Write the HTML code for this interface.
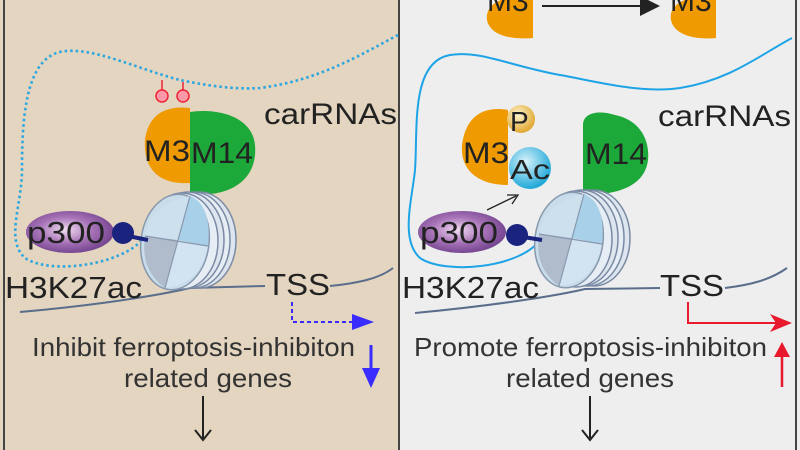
<!DOCTYPE html>
<html><head><meta charset="utf-8"><style>
html,body{margin:0;padding:0;width:800px;height:450px;overflow:hidden;background:#eee}
text{font-family:"Liberation Sans",sans-serif}
</style></head><body>
<svg width="800" height="450" viewBox="0 0 800 450" xmlns="http://www.w3.org/2000/svg">
<defs>
<radialGradient id="pg" cx="0.45" cy="0.45" r="0.6"><stop offset="0" stop-color="#f0dcf0"/><stop offset="0.5" stop-color="#a874b8"/><stop offset="1" stop-color="#6e3e8a"/></radialGradient>
<radialGradient id="ag" cx="0.4" cy="0.35" r="0.65"><stop offset="0" stop-color="#d8f2fb"/><stop offset="1" stop-color="#1fa8d8"/></radialGradient>
<radialGradient id="tg" cx="0.4" cy="0.35" r="0.65"><stop offset="0" stop-color="#fff4d0"/><stop offset="1" stop-color="#e0a830"/></radialGradient>
<g id="nuc">
<ellipse cx="200" cy="240" rx="36" ry="48" fill="#dde6ee" stroke="#7a8aa4" stroke-width="1.5"/>
<ellipse cx="194" cy="240" rx="36" ry="48" fill="#e6edf4" stroke="#7a8aa4" stroke-width="1.5"/>
<ellipse cx="188" cy="240" rx="36" ry="48" fill="#dde6ee" stroke="#7a8aa4" stroke-width="1.5"/>
<ellipse cx="182" cy="241" rx="36" ry="48" fill="#e6edf4" stroke="#7a8aa4" stroke-width="1.5"/>
<ellipse cx="175" cy="242" rx="34" ry="48" transform="rotate(8 175 242)" fill="#c8dcea" stroke="#8898ae" stroke-width="1.5"/>
<path d="M190 196 L178 240 L145 236 Q150 205 190 196Z" fill="#cde0ee"/>
<path d="M190 196 L178 240 L208 246 Q212 205 190 196Z" fill="#a8d0e8"/>
<path d="M145 236 L178 240 L165 288 Q140 270 145 236Z" fill="#b0bccc"/>
<path d="M178 240 L208 246 Q200 285 165 288Z" fill="#d2e4f2"/>
<path d="M190 196 L165 288 M145 236 L208 246" stroke="#8898ae" stroke-width="1.2" fill="none"/>
</g>
</defs>
<!-- left panel -->
<rect x="0" y="0" width="400" height="450" fill="#e3d5bf"/>
<line x1="4" y1="0" x2="4" y2="450" stroke="#444" stroke-width="2"/>
<line x1="399" y1="0" x2="399" y2="450" stroke="#444" stroke-width="2"/>
<line x1="796" y1="0" x2="796" y2="450" stroke="#444" stroke-width="2"/>
<path d="M398 35 C360 55 320 80 260 88 C230 90 200 84 180 80 C140 70 90 45 60 52 C25 60 22 120 22 170 C22 205 5 240 25 258 C50 275 120 265 142 240" fill="none" stroke="#2aa6e0" stroke-width="2.6" stroke-dasharray="2.5 3"/>
<line x1="162" y1="80" x2="162" y2="92" stroke="#e23" stroke-width="1.5"/>
<line x1="183" y1="82" x2="183" y2="92" stroke="#e23" stroke-width="1.5"/>
<circle cx="162" cy="96" r="6" fill="#f9a" stroke="#e23" stroke-width="1.5"/>
<circle cx="183" cy="96" r="6" fill="#f9a" stroke="#e23" stroke-width="1.5"/>
<path d="M190 108 C165 105 148 115 145 140 C143 170 160 185 190 183Z" fill="#ef9a00"/>
<path d="M190 112 C215 108 252 115 255 145 C258 180 230 198 190 194Z" fill="#1da83a"/>
<text x="144" y="161" font-size="30" fill="#222" textLength="46" lengthAdjust="spacingAndGlyphs">M3</text>
<text x="191" y="163" font-size="30" fill="#222" textLength="62" lengthAdjust="spacingAndGlyphs">M14</text>
<text x="264" y="124" font-size="30" fill="#222" textLength="133" lengthAdjust="spacingAndGlyphs">carRNAs</text>
<path d="M20 312 C100 305 160 295 190 288 L265 286" fill="none" stroke="#5a6e8c" stroke-width="2"/>
<path d="M330 286 C360 283 380 278 393 268" fill="none" stroke="#5a6e8c" stroke-width="2"/>
<use href="#nuc"/>
<ellipse cx="70" cy="232" rx="44" ry="21" fill="url(#pg)"/>
<text x="27" y="243" font-size="31" fill="#222" textLength="78" lengthAdjust="spacingAndGlyphs">p300</text>
<line x1="123" y1="235" x2="148" y2="240" stroke="#1a237e" stroke-width="4"/>
<circle cx="123" cy="233" r="11" fill="#1a237e"/>
<text x="5" y="298" font-size="31" fill="#222" textLength="137" lengthAdjust="spacingAndGlyphs">H3K27ac</text>
<text x="266" y="295" font-size="31" fill="#222" textLength="64" lengthAdjust="spacingAndGlyphs">TSS</text>
<path d="M292 302 L292 322 L360 322" fill="none" stroke="#3a2bff" stroke-width="2" stroke-dasharray="4 3"/>
<path d="M352 314 L374 322 L352 330Z" fill="#3a2bff"/>
<line x1="371" y1="345" x2="371" y2="372" stroke="#3a2bff" stroke-width="3"/>
<path d="M362 368 L371 388 L380 368Z" fill="#3a2bff"/>
<text x="32" y="356" font-size="26" fill="#333" textLength="323" lengthAdjust="spacingAndGlyphs">Inhibit ferroptosis-inhibiton</text>
<text x="124" y="387" font-size="26" fill="#333" textLength="168" lengthAdjust="spacingAndGlyphs">related genes</text>
<line x1="203" y1="396" x2="203" y2="438" stroke="#222" stroke-width="2"/>
<path d="M195 430 L203 440 L211 430" fill="none" stroke="#222" stroke-width="2"/>
<!-- right panel -->
<rect x="401" y="0" width="394" height="450" fill="#eeeeee"/>
<path d="M533 -5 C500 -5 485 5 487 20 C490 35 510 40 533 38Z" fill="#ef9a00"/>
<text x="487" y="11" font-size="30" fill="#222">M3</text>
<line x1="542" y1="6" x2="650" y2="6" stroke="#222" stroke-width="2"/>
<path d="M640 -4 L660 6 L640 16Z" fill="#222"/>
<path d="M716 -5 C685 -5 668 5 671 20 C674 35 695 40 716 38Z" fill="#ef9a00"/>
<text x="670" y="11" font-size="30" fill="#222">M3</text>
<path d="M792 38 C760 55 730 80 680 88 C640 94 590 80 560 75 C510 66 480 50 450 55 C410 62 418 130 415 170 C412 200 400 240 420 258 C445 275 520 268 540 240" fill="none" stroke="#1ea4e6" stroke-width="2"/>
<path d="M508 110 C480 105 465 120 462 145 C460 170 478 185 508 185Z" fill="#ef9a00"/>
<circle cx="521" cy="119" r="14" fill="url(#tg)"/>
<text x="510" y="131" font-size="28" fill="#222">P</text>
<circle cx="530" cy="168" r="21" fill="url(#ag)"/>
<text x="463" y="163" font-size="30" fill="#222" textLength="46" lengthAdjust="spacingAndGlyphs">M3</text>
<text x="510" y="179" font-size="28" fill="#222" textLength="40" lengthAdjust="spacingAndGlyphs">Ac</text>
<path d="M583 125 C583 112 600 110 615 115 C640 120 650 140 648 160 C645 185 620 195 583 195Z" fill="#1da83a"/>
<text x="585" y="164" font-size="30" fill="#222" textLength="62" lengthAdjust="spacingAndGlyphs">M14</text>
<text x="658" y="126" font-size="30" fill="#222" textLength="133" lengthAdjust="spacingAndGlyphs">carRNAs</text>
<line x1="487" y1="210" x2="516" y2="196" stroke="#222" stroke-width="1.3"/>
<path d="M507 195 L518 195 L512 204" fill="none" stroke="#222" stroke-width="1.3"/>
<path d="M415 313 C500 305 560 295 585 289 L660 288" fill="none" stroke="#5a6e8c" stroke-width="2"/>
<path d="M725 288 C750 285 770 280 787 268" fill="none" stroke="#5a6e8c" stroke-width="2"/>
<use href="#nuc" transform="translate(394 -2)"/>
<ellipse cx="462" cy="232" rx="44" ry="21" fill="url(#pg)"/>
<text x="420" y="243" font-size="31" fill="#222" textLength="78" lengthAdjust="spacingAndGlyphs">p300</text>
<line x1="517" y1="236" x2="542" y2="240" stroke="#1a237e" stroke-width="4"/>
<circle cx="517" cy="235" r="11" fill="#1a237e"/>
<text x="402" y="298" font-size="31" fill="#222" textLength="137" lengthAdjust="spacingAndGlyphs">H3K27ac</text>
<text x="660" y="296" font-size="31" fill="#222" textLength="64" lengthAdjust="spacingAndGlyphs">TSS</text>
<path d="M688 302 L688 323 L780 323" fill="none" stroke="#e8192c" stroke-width="2"/>
<path d="M770 314 L792 323 L770 332 L776 323Z" fill="#e8192c"/>
<line x1="782" y1="387" x2="782" y2="352" stroke="#e8192c" stroke-width="2.5"/>
<path d="M774 357 L782 342 L790 357Z" fill="#e8192c"/>
<text x="414" y="356" font-size="26" fill="#333" textLength="353" lengthAdjust="spacingAndGlyphs">Promote ferroptosis-inhibiton</text>
<text x="506" y="387" font-size="26" fill="#333" textLength="168" lengthAdjust="spacingAndGlyphs">related genes</text>
<line x1="590" y1="396" x2="590" y2="438" stroke="#222" stroke-width="2"/>
<path d="M582 430 L590 440 L598 430" fill="none" stroke="#222" stroke-width="2"/>
</svg>
</body></html>
